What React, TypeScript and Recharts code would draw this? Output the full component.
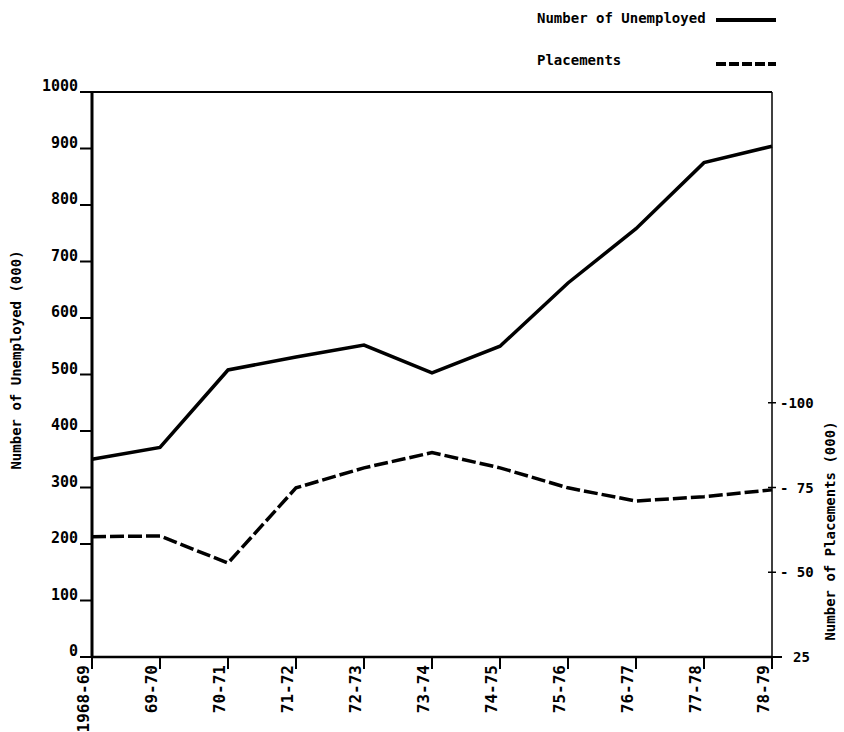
import React from 'react';
import { LineChart, Line, XAxis, YAxis, ReferenceLine, Legend } from 'recharts';

const categories = ['1968-69', '69-70', '70-71', '71-72', '72-73', '73-74', '74-75', '75-76', '76-77', '77-78', '78-79'];
const unemployed = [350, 371, 508, 531, 552, 503, 550, 662, 758, 875, 904];
const placements = [60.5, 60.7, 52.7, 74.9, 80.8, 85.3, 80.8, 74.9, 71.0, 72.3, 74.3];
const leftTicks = [0, 100, 200, 300, 400, 500, 600, 700, 800, 900, 1000];
const rightTicks = [25, 50, 75, 100];
const seriesNames = ['Number of Unemployed', 'Placements'];
const leftTitle = 'Number of Unemployed (000)';
const rightTitle = 'Number of Placements (000)';

const data = categories.map((c, i) => ({ period: c, unemployed: unemployed[i], placements: placements[i] }));

const FONT = '"DejaVu Sans Mono", monospace';
const INK = '#000';
const DASH = '14 4';
const W = 'bold';

const LeftTick = (props: any) => {
  const { x, y, payload } = props;
  return (
    <text x={x} y={y} dy={-1} textAnchor="end" fontFamily={FONT} fontWeight={W} fontSize={15} fill={INK}>
      {payload.value}
    </text>
  );
};

const RightTick = (props: any) => {
  const { x, y, payload } = props;
  const v = payload.value;
  const label = v === 25 ? '25' : v === 100 ? '-100' : '- ' + v;
  return (
    <g>
      {v === 25 ? (
        <line x1={x} x2={x + 10} y1={y} y2={y} stroke={INK} strokeWidth={2} />
      ) : (
        <line x1={x - 4} x2={x + 4} y1={y} y2={y} stroke={INK} strokeWidth={1.5} />
      )}
      <text x={v === 25 ? x + 21 : x + 8} y={y} dy={5} textAnchor="start" fontFamily={FONT} fontWeight={W} fontSize={14} fill={INK}>
        {label}
      </text>
    </g>
  );
};

const BottomTick = (props: any) => {
  const { x, y, payload } = props;
  return (
    <text
      transform={`translate(${x - 3},${y - 6}) rotate(-90)`}
      x={0}
      y={0}
      textAnchor="end"
      fontFamily={FONT}
      fontWeight={W}
      fontSize={16}
      fill={INK}
    >
      {payload.value}
    </text>
  );
};

const LeftLabel = (props: any) => {
  const vb = props.viewBox || { x: 0, y: 92, width: 92, height: 565 };
  const cx = vb.x + 21;
  const cy = vb.y + 268;
  return (
    <text transform={`translate(${cx},${cy}) rotate(-90)`} textAnchor="middle" fontFamily={FONT} fontWeight={W} fontSize={14} fill={INK}>
      {leftTitle}
    </text>
  );
};

const RightLabel = (props: any) => {
  const vb = props.viewBox || { x: 772, y: 92, width: 72, height: 565 };
  const cx = vb.x + 63;
  const cy = vb.y + 439;
  return (
    <text transform={`translate(${cx},${cy}) rotate(-90)`} textAnchor="middle" fontFamily={FONT} fontWeight={W} fontSize={14} fill={INK}>
      {rightTitle}
    </text>
  );
};

const LegendContent = () => (
  <div style={{ position: 'relative', height: 0, width: 844 }}>
    {seriesNames.map((name, i) => (
      <div key={name} style={{ position: 'absolute', left: 537, top: 9 + i * 42, width: 250, height: 20 }}>
        <span style={{ fontFamily: FONT, fontWeight: 700, fontSize: 14, color: INK, lineHeight: '18px', whiteSpace: 'pre' }}>{name}</span>
        <svg style={{ position: 'absolute', left: 177, top: 0 }} width={64} height={20}>
          <line
            x1={2}
            x2={62}
            y1={i === 0 ? 11 : 13}
            y2={i === 0 ? 11 : 13}
            stroke={INK}
            strokeWidth={4}
            strokeDasharray={i === 0 ? undefined : '10 3'}
          />
        </svg>
      </div>
    ))}
  </div>
);

export default function App() {
  return (
    <div style={{ position: 'absolute', left: 0, top: 0, width: 844, height: 732, background: '#fff' }}>
      <LineChart width={844} height={732} data={data} margin={{ top: 92, right: 0, bottom: 0, left: 0 }}>
        <XAxis
          dataKey="period"
          height={75}
          interval={0}
          tickSize={12}
          tickMargin={2}
          axisLine={{ stroke: INK, strokeWidth: 2.5 }}
          tickLine={{ stroke: INK, strokeWidth: 2 }}
          tick={<BottomTick />}
          padding={{ left: 0, right: 0 }}
        />
        <YAxis
          yAxisId="left"
          domain={[0, 1000]}
          ticks={leftTicks}
          interval={0}
          width={92}
          tickSize={12}
          tickMargin={2}
          axisLine={{ stroke: INK, strokeWidth: 3 }}
          tickLine={{ stroke: INK, strokeWidth: 2 }}
          tick={<LeftTick />}
          label={<LeftLabel />}
          allowDataOverflow
        />
        <YAxis
          yAxisId="right"
          orientation="right"
          domain={[25, 191.67]}
          ticks={rightTicks}
          interval={0}
          width={72}
          tickSize={0}
          tickMargin={0}
          axisLine={{ stroke: INK, strokeWidth: 1.5 }}
          tickLine={false}
          tick={<RightTick />}
          label={<RightLabel />}
          allowDataOverflow
        />
        <ReferenceLine yAxisId="left" y={1000} stroke={INK} strokeWidth={2} />
        <Legend
          layout="horizontal"
          verticalAlign="middle"
          align="center"
          wrapperStyle={{ top: 0, left: 0, width: 844, height: 0 }}
          content={<LegendContent />}
        />
        <Line
          yAxisId="left"
          name={seriesNames[0]}
          dataKey="unemployed"
          type="linear"
          stroke={INK}
          strokeWidth={3.5}
          dot={false}
          activeDot={false}
          isAnimationActive={false}
        />
        <Line
          yAxisId="right"
          name={seriesNames[1]}
          dataKey="placements"
          type="linear"
          stroke={INK}
          strokeWidth={3.5}
          strokeDasharray={DASH}
          dot={false}
          activeDot={false}
          isAnimationActive={false}
        />
      </LineChart>
    </div>
  );
}
